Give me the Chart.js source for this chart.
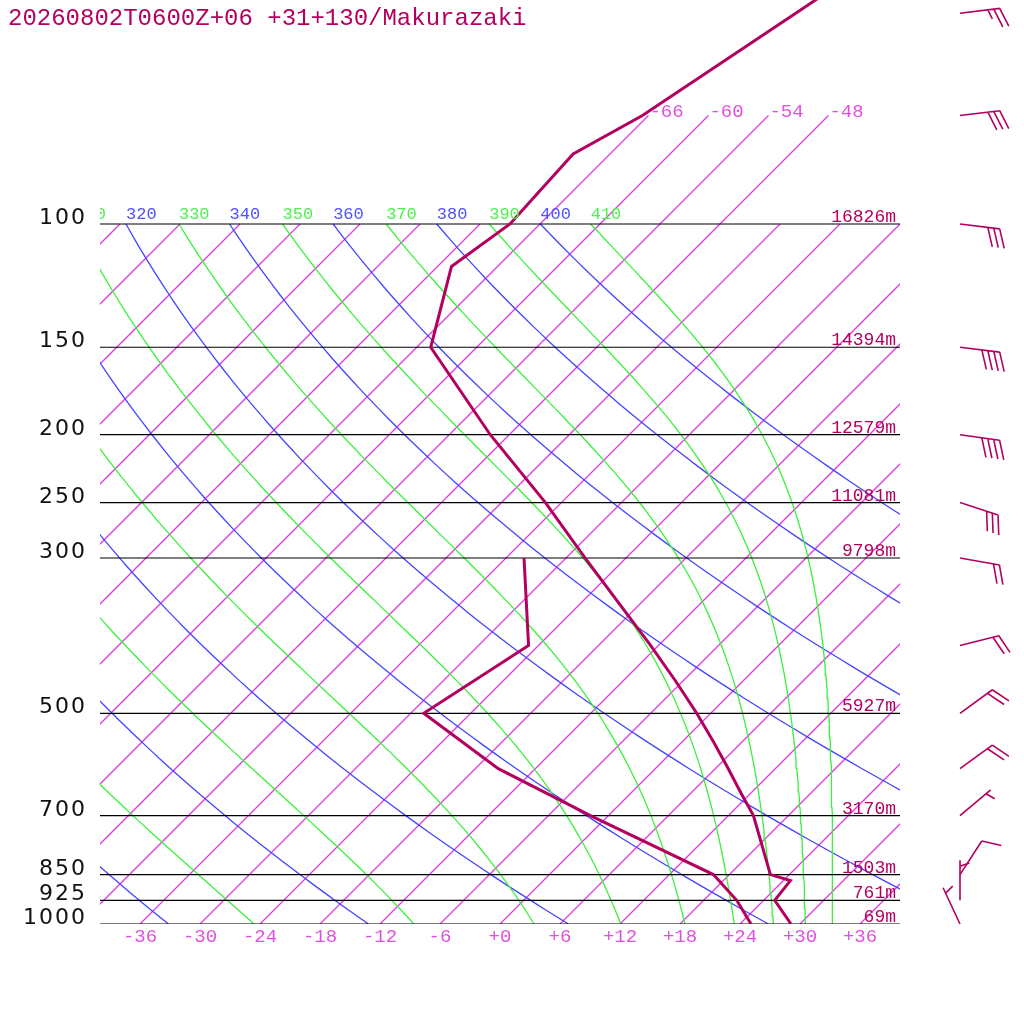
<!DOCTYPE html>
<html>
<head>
<meta charset="utf-8">
<script src="https://cdn.jsdelivr.net/npm/chart.js@4.4.1/dist/chart.umd.min.js"></script>
<style>
  html, body { margin: 0; padding: 0; background: #fff; }
  canvas { display: block; }
</style>
</head>
<body>
<canvas id="skewt" width="1024" height="1024"></canvas>
<script>
// sounding
const title = '20260802T0600Z+06 +31+130/Makurazaki';

const tempP = [40, 50, 70, 79.4, 100, 115, 150, 200, 250, 300, 350, 400, 450, 500, 550, 600, 650, 700, 850, 867, 925, 1000];
const tempC = [-58.2, -61.5, -66.6, -69.7, -69.0, -70.6, -64.6, -49.9, -37.6, -28.1, -19.9, -12.8, -6.7, -1.4, 3.2, 7.3, 11.0, 14.5, 22.1, 24.7, 25.1, 29.1];

const dewP = [300, 400, 500, 600, 700, 850, 925, 1000];
const dewC = [-34.2, -25.0, -28.7, -15.7, -1.8, 16.4, 21.3, 25.1];

const levels = [100, 150, 200, 250, 300, 500, 700, 850, 925, 1000];
const heights = ['16826m', '14394m', '12579m', '11081m', '9798m', '5927m', '3170m', '1503m', '761m', '69m'];

const windP = [50, 70, 100, 150, 200, 250, 300, 400, 500, 600, 700, 850, 925, 1000];
const windDir = [83, 83, 97, 97, 98, 108, 100, 76, 54, 54, 50, 33, 0, 335];
const windKt = [25, 30, 30, 40, 40, 30, 20, 20, 20, 20, 5, 10, 5, 5];

// diagram grid
const isotherms = [-108, -102, -96, -90, -84, -78, -72, -66, -60, -54, -48, -42, -36, -30, -24, -18, -12, -6, 0, 6, 12, 18, 24, 30, 36];
const upperIsotherms = [-66, -60, -54, -48];
const tempTicks = [-36, -30, -24, -18, -12, -6, 0, 6, 12, 18, 24, 30, 36];
const thetaLevels = [240, 260, 280, 300, 320, 340, 360, 380, 400];
const thetaELevels = [250, 270, 290, 310, 330, 350, 370, 390, 410];

const P_TOP = 1000 / Math.pow(10, 924 / 700);
const SKEW = 70; // degC per decade of pressure

const crimson = '#b3005f';
const isoColor = 'rgb(222, 64, 222)';
const blue = 'rgb(68, 68, 255)';
const green = 'rgb(60, 240, 60)';

function skx(t, p) {
    return t + SKEW * Math.log10(1000 / p);
}

function thetaE(tc, p) {
    const tk = tc + 273.15;
    const es = 6.112 * Math.exp(17.67 * tc / (tc + 243.5));
    if (es > p * 0.5) return Infinity;
    const r = 1000 * 0.622 * es / (p - es);
    const th = tk * Math.pow(1000 / p, 0.2854 * (1 - 0.00028 * r));
    return th * Math.exp((3.376 / tk - 0.00254) * r * (1 + 0.00081 * r));
}

function moistT(te, p) {
    let lo = -160, hi = 60;
    for (let i = 0; i < 60; i++) {
        const mid = (lo + hi) / 2;
        if (thetaE(mid, p) > te) hi = mid; else lo = mid;
    }
    return (lo + hi) / 2;
}

const gridP = [];
for (let i = 0; i <= 90; i++) gridP.push(1000 * Math.pow(10, -i / 90));

function lineSet(data, color, width, order) {
    return {
        data: data,
        showLine: true,
        borderColor: color,
        backgroundColor: color,
        borderWidth: width,
        pointRadius: 0,
        fill: false,
        tension: 0,
        clip: 0,
        order: order
    };
}

const datasets = [];
datasets.push(lineSet(tempP.map((p, i) => ({ x: skx(tempC[i], p), y: p })), crimson, 3, 0));
datasets.push(lineSet(dewP.map((p, i) => ({ x: skx(dewC[i], p), y: p })), crimson, 3, 0));
levels.forEach(p => {
    datasets.push(lineSet([{ x: -40, y: p }, { x: 40, y: p }], '#000', 1.2, 1));
});
thetaELevels.forEach(te => {
    datasets.push(lineSet(gridP.map(p => ({ x: skx(moistT(te, p), p), y: p })), green, 1.3, 2));
});
thetaLevels.forEach(th => {
    datasets.push(lineSet(gridP.map(p => ({ x: skx(th * Math.pow(p / 1000, 0.2857) - 273.15, p), y: p })), blue, 1.3, 3));
});
isotherms.forEach(t => {
    const top = upperIsotherms.includes(t) ? 70 : 100;
    datasets.push(lineSet([{ x: skx(t, 1000), y: 1000 }, { x: skx(t, top), y: top }], isoColor, 1.3, 4));
});

function drawBarb(ctx, x0, y0, dir, kt) {
    const rad = dir * Math.PI / 180;
    const dx = Math.sin(rad), dy = -Math.cos(rad);
    const tx = x0 + dx * 40, ty = y0 + dy * 40;
    const a = 70 * Math.PI / 180;
    const bx = Math.cos(a) * dx - Math.sin(a) * dy;
    const by = Math.sin(a) * dx + Math.cos(a) * dy;
    ctx.beginPath();
    ctx.moveTo(x0, y0);
    ctx.lineTo(tx, ty);
    const full = Math.floor(kt / 10);
    const half = kt % 10 >= 5;
    let pos = 0;
    for (let i = 0; i < full; i++, pos++) {
        const sx = tx - dx * pos * 6, sy = ty - dy * pos * 6;
        ctx.moveTo(sx, sy);
        ctx.lineTo(sx + bx * 20, sy + by * 20);
    }
    if (half) {
        if (full === 0) pos = 1;
        const sx = tx - dx * pos * 6, sy = ty - dy * pos * 6;
        ctx.moveTo(sx, sy);
        ctx.lineTo(sx + bx * 10, sy + by * 10);
    }
    ctx.stroke();
}

const labelsPlugin = {
    id: 'skewLabels',
    afterDraw(chart) {
        const ctx = chart.ctx;
        const xs = chart.scales.x, ys = chart.scales.y;
        const area = chart.chartArea;
        ctx.save();

        ctx.fillStyle = crimson;
        ctx.font = '24px "Liberation Mono"';
        ctx.textAlign = 'left';
        ctx.textBaseline = 'alphabetic';
        ctx.fillText(title, 8, 25);

        // pressure labels
        ctx.fillStyle = '#111';
        ctx.font = '22px "DejaVu Sans"';
        ctx.letterSpacing = '2px';
        ctx.textAlign = 'right';
        levels.forEach(p => ctx.fillText(String(p), 87, ys.getPixelForValue(p)));
        ctx.letterSpacing = '0px';

        // heights
        ctx.fillStyle = crimson;
        ctx.font = '18px "Liberation Mono"';
        levels.forEach((p, i) => ctx.fillText(heights[i], 896, ys.getPixelForValue(p) - 2));

        // temperature ticks along 1000 hPa
        ctx.fillStyle = '#e050e0';
        ctx.font = '19px "Liberation Mono"';
        ctx.textAlign = 'center';
        tempTicks.forEach(t => {
            const s = (t < 0 ? '-' : '+') + Math.abs(t);
            ctx.fillText(s, xs.getPixelForValue(skx(t, 1000)), 942);
        });
        ctx.textAlign = 'left';
        upperIsotherms.forEach(t => {
            ctx.fillText(String(t), xs.getPixelForValue(skx(t, 70)) + 1, ys.getPixelForValue(70) + 1.5);
        });

        // adiabat labels at 100 hPa
        ctx.save();
        ctx.beginPath();
        ctx.rect(area.left, 0, area.right - area.left, 1024);
        ctx.clip();
        ctx.font = '17px "Liberation Mono"';
        const y100 = ys.getPixelForValue(100) - 5.5;
        thetaLevels.forEach(th => {
            ctx.fillStyle = '#5050ff';
            ctx.fillText(String(th), xs.getPixelForValue(skx(th * Math.pow(0.1, 0.2857) - 273.15, 100)), y100);
        });
        thetaELevels.forEach(te => {
            ctx.fillStyle = '#4fef4f';
            ctx.fillText(String(te), xs.getPixelForValue(skx(moistT(te, 100), 100)), y100);
        });
        ctx.restore();

        // wind barbs
        ctx.strokeStyle = crimson;
        ctx.lineWidth = 1.6;
        windP.forEach((p, i) => drawBarb(ctx, 960, ys.getPixelForValue(p), windDir[i], windKt[i]));
        ctx.restore();
    }
};

new Chart(document.getElementById('skewt'), {
    type: 'scatter',
    data: { datasets: datasets },
    options: {
        responsive: false,
        devicePixelRatio: 1,
        animation: false,
        events: [],
        layout: { padding: { left: 100, right: 124, top: 0, bottom: 100 } },
        plugins: { legend: { display: false }, tooltip: { enabled: false } },
        scales: {
            x: { type: 'linear', min: -40, max: 40, display: false, bounds: 'data' },
            y: { type: 'logarithmic', min: P_TOP, max: 1000, reverse: true, display: false, bounds: 'data' }
        }
    },
    plugins: [labelsPlugin]
});
</script>
</body>
</html>
